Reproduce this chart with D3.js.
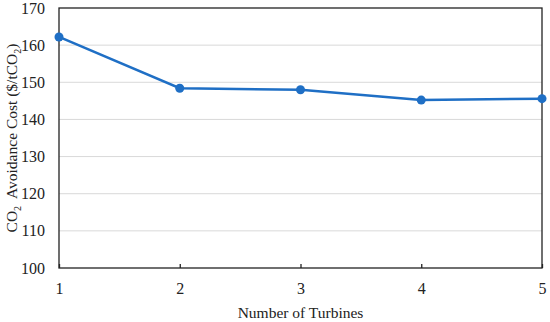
<!DOCTYPE html>
<html><head><meta charset="utf-8">
<script src="https://cdn.jsdelivr.net/npm/d3@7"></script>
<style>body{margin:0;background:#fff}svg{display:block}text{font-family:"Liberation Serif","DejaVu Serif",serif;fill:#222}</style>
</head><body><svg id="c" width="550" height="322"></svg>
<script>
const turbines = [1, 2, 3, 4, 5];
const avoidanceCost = [162.2, 148.4, 148.0, 145.2, 145.6];
const yTicks = [100, 110, 120, 130, 140, 150, 160, 170];

const svg = d3.select("#c");
const m = {l: 59, r: 8, t: 8, b: 54};
const W = 550, H = 322;
const x = d3.scaleLinear().domain([1, 5]).range([m.l, W - m.r]);
const y = d3.scaleLinear().domain([100, 170]).range([H - m.b, m.t]);

// gridlines
svg.append("g").selectAll("line").data(yTicks.slice(1, -1)).join("line")
  .attr("x1", x(1)).attr("x2", x(5)).attr("y1", d => y(d)).attr("y2", d => y(d))
  .attr("stroke", "#d9d9d9").attr("stroke-width", 1);

// frame
svg.append("rect").attr("x", x(1)).attr("y", y(170)).attr("width", x(5) - x(1)).attr("height", y(100) - y(170))
  .attr("fill", "none").attr("stroke", "#222").attr("stroke-width", 1.3);

// x axis
const xa = svg.append("g").attr("transform", `translate(0,${y(100)})`)
  .call(d3.axisBottom(x).tickValues(turbines).tickFormat(d3.format("d")).tickSize(-4).tickPadding(15));
xa.select(".domain").remove();
xa.selectAll(".tick line").attr("stroke", "#222").attr("stroke-width", 1.3);
xa.selectAll("text").attr("font-size", 16);

// y axis
const ya = svg.append("g").attr("transform", `translate(${x(1)},0)`)
  .call(d3.axisLeft(y).tickValues(yTicks).tickSize(0).tickPadding(14));
ya.select(".domain").remove();
ya.selectAll("text").attr("font-size", 16);

// line
const data = turbines.map((t, i) => ({t, v: avoidanceCost[i]}));
svg.append("path").datum(data)
  .attr("d", d3.line().x(d => x(d.t)).y(d => y(d.v)))
  .attr("fill", "none").attr("stroke", "#1f6fc5").attr("stroke-width", 2.5);
svg.append("g").selectAll("circle").data(data).join("circle")
  .attr("cx", d => x(d.t)).attr("cy", d => y(d.v)).attr("r", 4.5).attr("fill", "#1f6fc5");

// axis titles
svg.append("text").attr("x", (x(1) + x(5)) / 2).attr("y", 318).attr("text-anchor", "middle")
  .attr("font-size", 15.5).text("Number of Turbines");
const yt = svg.append("text").attr("transform", `translate(17,${(y(100) + y(170)) / 2}) rotate(-90)`)
  .attr("text-anchor", "middle").attr("font-size", 15.5);
yt.append("tspan").text("CO");
yt.append("tspan").attr("font-size", 10).attr("dy", 4).text("2");
yt.append("tspan").attr("dy", -4).text("\u00a0 Avoidance Cost ($/tCO");
yt.append("tspan").attr("font-size", 10).attr("dy", 4).text("2");
yt.append("tspan").attr("dy", -4).text(")");
</script></body></html>
